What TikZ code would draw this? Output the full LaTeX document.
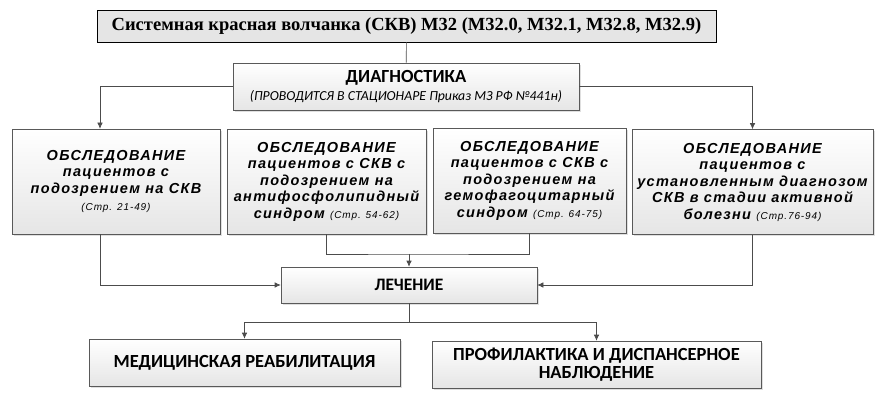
\documentclass[tikz,border=0pt]{standalone}
\usepackage{fontspec}
\setmainfont{Liberation Sans}
\newfontfamily\titlefont{Liberation Serif}
\newfontfamily\calfont{Carlito}
\usetikzlibrary{shadows, arrows.meta}

% ссылка на страницы
\newcommand{\pages}[1]{{\mdseries\fontsize{10}{12}\selectfont (#1)}}

\begin{document}
\begin{tikzpicture}[x=1pt, y=-1pt,
  box/.style={draw=black!65, semithick, top color=white, bottom color=black!10,
              align=center, inner sep=2pt,
              drop shadow={shadow xshift=2pt, shadow yshift=-2pt, opacity=0.25}},
  exam/.style={box, minimum height=105pt,
               font=\addfontfeatures{LetterSpace=9}\bfseries\itshape\fontsize{14.5}{16.5}\selectfont},
  step2/.style={box, font=\calfont\bfseries\fontsize{18.5}{18.5}\selectfont},
  arr/.style={-{Latex[length=6pt, width=5.5pt]}, semithick, draw=black!70},
  line/.style={semithick, draw=black!70}
]
  \useasboundingbox (0,0) rectangle (880,395);
  % Заголовок
  \node[draw, fill=black!10, minimum width=619pt, minimum height=32pt,
        font=\titlefont\bfseries\fontsize{18.5}{20}\selectfont]
        (title) at (406.5,26) {Системная красная волчанка (СКВ) М32 (М32.0, М32.1, М32.8, М32.9)};
  \node[box, minimum width=346pt, minimum height=47pt] (diag) at (406,86.5)
        {{\calfont\bfseries\fontsize{18.5}{18}\selectfont ДИАГНОСТИКА}\\[4pt]
         {\calfont\itshape\fontsize{13.8}{14}\selectfont (ПРОВОДИТСЯ В СТАЦИОНАРЕ Приказ МЗ РФ №441н)}};
  % Обследование
  \node[exam, minimum width=208pt] (obs1) at (116,181.5)
        {ОБСЛЕДОВАНИЕ\\ пациентов с\\ подозрением на СКВ\\[1pt] \pages{Стр. 21-49}};
  \node[exam, minimum width=199pt] (obs2) at (326.5,181.5)
        {ОБСЛЕДОВАНИЕ\\ пациентов с СКВ с\\ подозрением на\\ антифосфолипидный\\ синдром \pages{Стр. 54-62}};
  \node[exam, minimum width=193pt] (obs3) at (529.5,180.5)
        {ОБСЛЕДОВАНИЕ\\ пациентов с СКВ с\\ подозрением на\\ гемофагоцитарный\\ синдром \pages{Стр. 64-75}};
  \node[exam, minimum width=241pt] (obs4) at (752.5,182)
        {ОБСЛЕДОВАНИЕ\\ пациентов с\\ установленным диагнозом\\ СКВ в стадии активной\\ болезни \pages{Стр.76-94}};
  % Лечение и далее
  \node[step2, minimum width=256pt, minimum height=36pt, font=\calfont\bfseries\fontsize{17.5}{18}\selectfont]
        (treat) at (409,285) {ЛЕЧЕНИЕ};
  \node[step2, minimum width=311pt, minimum height=47pt] (rehab) at (244.5,362.5)
        {МЕДИЦИНСКАЯ РЕАБИЛИТАЦИЯ};
  \node[step2, minimum width=329pt, minimum height=47pt] (prev) at (596.5,364.5)
        {ПРОФИЛАКТИКА И ДИСПАНСЕРНОЕ\\ НАБЛЮДЕНИЕ};
  \coordinate (join) at (409,254);
  \coordinate (split) at (409,322);
  % Связи
  \draw[line] (title) -- (diag);
  \draw[arr] (diag.west) -| ([xshift=-16pt]obs1.north);
  \draw[arr] (diag.east) -| (obs4.north);
  \draw[arr] ([xshift=-16pt]obs1.south) |- (treat.west);
  \draw[arr] (obs4.south) |- (treat.east);
  \draw[line] (obs2.south) |- (join) -| (obs3.south);
  \draw[arr] (join) -- (treat.north);
  \draw[line] (treat.south) -- (split);
  \draw[arr] (split) -| (rehab.north);
  \draw[arr] (split) -| (prev.north);
\end{tikzpicture}
\end{document}
